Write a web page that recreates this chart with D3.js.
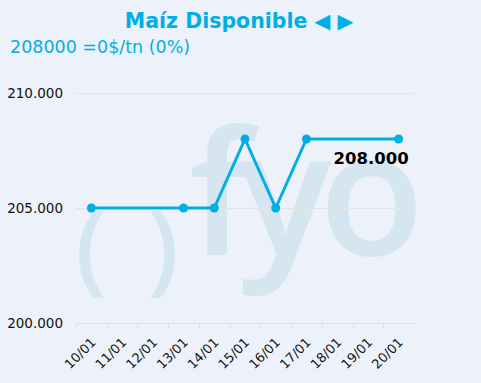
<!DOCTYPE html>
<html>
<head>
<meta charset="utf-8">
<script src="https://cdn.jsdelivr.net/npm/d3@7"></script>
<style>
  body { margin: 0; background: #edf2fa; }
  svg { display: block; font-family: "DejaVu Sans", Verdana, sans-serif; }
</style>
</head>
<body>
<div id="chart"></div>
<script>
(function(){
    /* global d3 */
    var dates = ['10/01','11/01','12/01','13/01','14/01','15/01','16/01','17/01','18/01','19/01','20/01'];
    // precio por fecha, null = sin dato
    var prices = [205000, null, null, 205000, 205000, 208000, 205000, 208000, null, null, 208000];
    var yTicks = [200000, 205000, 210000];
    var lastLabel = '208.000';

    var W = 481, H = 383;
    var svg = d3.select('#chart').append('svg')
        .attr('width', W).attr('height', H);

    svg.append('rect').attr('width', W).attr('height', H).attr('fill', '#edf2fa');

    var x = d3.scaleBand().domain(dates).range([76, 414]);
    var y = d3.scaleLinear().domain([200000, 210000]).range([323, 93]);

    // marca de agua (logo)
    var wm = svg.append('g').attr('fill', '#d5e6f0')
        .attr('font-family', '"Open Sans", sans-serif').attr('font-weight', 600);
    wm.append('text').attr('x', 91).attr('y', 282).attr('font-size', 100)
        .attr('text-anchor', 'middle').text('(');
    wm.append('text').attr('x', 163).attr('y', 282).attr('font-size', 100)
        .attr('text-anchor', 'middle').text(')');
    wm.append('text').attr('x', 189).attr('y', 255).attr('font-size', 172)
        .attr('letter-spacing', -12).text('fyo');

    // grilla
    svg.append('g').selectAll('line')
        .data(yTicks.slice(1)).enter()
        .append('line')
        .attr('x1', 76).attr('x2', 414)
        .attr('y1', d => Math.round(y(d)) + 0.5).attr('y2', d => Math.round(y(d)) + 0.5)
        .attr('stroke', '#e3e3e3');

    svg.append('g').selectAll('text')
        .data(yTicks).enter()
        .append('text')
        .attr('x', 63).attr('y', d => y(d)).attr('dy', '0.35em')
        .attr('text-anchor', 'end').attr('font-size', 13.5).attr('fill', '#111')
        .text(d => d3.format(',')(d).replace(/,/g, '.'));

    // eje x
    var xg = svg.append('g');
    xg.append('line').attr('x1', 76).attr('x2', 414).attr('y1', 323.5).attr('y2', 323.5)
        .attr('stroke', '#e0e0e0');
    xg.selectAll('line.tick')
        .data(dates).enter()
        .append('line').attr('class', 'tick')
        .attr('x1', d => Math.round(x(d)) + 0.5).attr('x2', d => Math.round(x(d)) + 0.5)
        .attr('y1', 323).attr('y2', 329)
        .attr('stroke', '#e0e0e0');
    xg.selectAll('text')
        .data(dates).enter()
        .append('text')
        .attr('transform', d => 'translate(' + (x(d) + x.bandwidth() / 2 + 2) + ',340) rotate(-45)')
        .attr('text-anchor', 'end').attr('dy', '0.35em')
        .attr('font-size', 13).attr('fill', '#111')
        .text(d => d);

    var pts = dates.map((d, i) => ({ d: d, v: prices[i] })).filter(p => p.v !== null);
    var cx = p => x(p.d) + x.bandwidth() / 2;

    svg.append('path')
        .datum(pts)
        .attr('fill', 'none').attr('stroke', '#00aee6').attr('stroke-width', 3)
        .attr('stroke-linejoin', 'round')
        .attr('d', d3.line().x(cx).y(p => y(p.v)));

    svg.append('g').selectAll('circle')
        .data(pts).enter()
        .append('circle')
        .attr('cx', cx).attr('cy', p => y(p.v)).attr('r', 4.5)
        .attr('fill', '#00aee6');

    var last = pts[pts.length - 1];
    svg.append('text')
        .attr('x', cx(last) + 10).attr('y', y(last.v) + 25)
        .attr('text-anchor', 'end').attr('font-size', 16.5).attr('font-weight', 'bold')
        .attr('fill', '#000')
        .text(lastLabel);

    // titulos
    svg.append('text')
        .attr('x', 239).attr('y', 28).attr('text-anchor', 'middle')
        .attr('font-size', 20.5).attr('font-weight', 'bold').attr('fill', '#00aee6')
        .text('Maíz Disponible ◀ ▶');
    svg.append('text')
        .attr('x', 10).attr('y', 53)
        .attr('font-size', 17.5).attr('fill', '#00aee6')
        .text('208000 =0$/tn (0%)');
})();
</script>
</body>
</html>
